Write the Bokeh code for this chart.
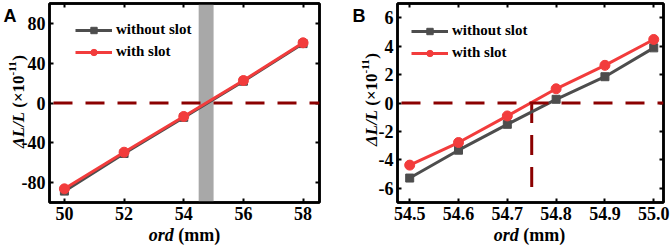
import math
from bokeh.plotting import figure
from bokeh.models import (Span, BoxAnnotation, Legend, LegendItem, FixedTicker,
                          LinearAxis, CustomJSTickFormatter, Range1d, GridBox)
from bokeh.core.properties import value
from bokeh.embed import file_html
from bokeh.resources import INLINE

# ---------------- data ----------------
a_ord = [50, 52, 54, 56, 58]
a_without = [-89.0, -51.0, -14.5, 22.0, 60.0]
a_with = [-86.7, -49.7, -13.6, 22.7, 60.8]
a_band = [54.5, 55.0]
a_xticks = [50, 52, 54, 56, 58]
a_yticks = [-80, -40, 0, 40, 80]
a_ytick_labels = ["-80", "-40", "0", "40", "80"]

b_ord = [54.5, 54.6, 54.7, 54.8, 54.9, 55.0]
b_without = [-5.28, -3.32, -1.50, 0.26, 1.85, 3.88]
b_with = [-4.37, -2.78, -0.91, 1.00, 2.65, 4.47]
b_cross_x = [54.75, 54.75]
b_cross_y = [0, -6]
b_xticks = [54.5, 54.6, 54.7, 54.8, 54.9, 55.0]
b_xtick_labels = ["54.5", "54.6", "54.7", "54.8", "54.9", "55.0"]
b_yticks = [-6, -4, -2, 0, 2, 4, 6]
b_ytick_labels = ["-6", "-4", "-2", "0", "2", "4", "6"]

series_names = ["without slot", "with slot"]
panel_letters = ["A", "B"]

GRAY = "#4d4d4d"
RED = "#f23c3c"
DARKRED = "#8b0000"
SERIF = "Liberation Serif"
W, H = 671, 246

# approximate advance widths (Times metrics, per em)
W_B = {' ': .25, '(': .333, ')': .333, 'm': .833, '×': .570, '1': .5, '0': .5, '-': .333}
W_BI = {'o': .5, 'r': .389, 'd': .5, 'L': .611, '/': .278, 'Δ': .612}


def tw(s, table, size):
    return sum(table.get(c, .5) for c in s) * size


def style_fig(p, xticks, yticks, xlabels=None, ylabels=None):
    p.grid.visible = False
    p.outline_line_color = "black"
    p.outline_line_width = 2.5
    p.xaxis.ticker = FixedTicker(ticks=xticks)
    p.yaxis.ticker = FixedTicker(ticks=yticks)
    if xlabels:
        p.xaxis.major_label_overrides = {t: l for t, l in zip(xticks, xlabels)}
    if ylabels:
        p.yaxis.major_label_overrides = {t: l for t, l in zip(yticks, ylabels)}
    blank = CustomJSTickFormatter(code="return ''")
    top = LinearAxis(ticker=FixedTicker(ticks=xticks), formatter=blank)
    right = LinearAxis(ticker=FixedTicker(ticks=yticks), formatter=blank)
    p.add_layout(top, "above")
    p.add_layout(right, "right")
    for ax in p.axis:
        ax.axis_line_width = 2.5
        ax.axis_line_color = "black"
        ax.major_tick_in = 4
        ax.major_tick_out = 0
        ax.major_tick_line_width = 2
        ax.minor_tick_line_color = None
        ax.major_label_text_font = SERIF
        ax.major_label_text_font_style = "bold"
        ax.major_label_text_font_size = "18px"
        ax.major_label_text_color = "black"
        ax.major_label_standoff = 4
    for ax in (top, right):
        ax.major_label_text_font_size = "0px"
        ax.major_label_standoff = 0


def add_legend(p, renderers, lx, ly):
    items = [LegendItem(label=n, renderers=r) for n, r in zip(series_names, renderers)]
    lg = Legend(items=items, location=(lx, ly), padding=0, margin=0, spacing=5,
                glyph_width=37, glyph_height=16, label_height=16, label_standoff=4,
                label_text_font=SERIF, label_text_font_style="bold",
                label_text_font_size="15px", label_text_color="black",
                border_line_alpha=0, background_fill_alpha=0)
    p.add_layout(lg)


# ---------------- panel A ----------------
pa = figure(width=335, height=246, x_range=Range1d(49.5, 58.55), y_range=Range1d(-100.5, 100.5),
            output_backend="svg", toolbar_location=None,
            min_border_left=49, min_border_right=16, min_border_top=3, min_border_bottom=44)
style_fig(pa, a_xticks, a_yticks, ylabels=a_ytick_labels)
pa.add_layout(BoxAnnotation(left=a_band[0], right=a_band[1], fill_color="#a8a8a8", fill_alpha=1,
                            line_color=None, level="underlay"))
pa.add_layout(Span(location=0, dimension="width", line_color=DARKRED, line_width=3,
                   line_dash="19 13", line_dash_offset=-4))
ra1 = pa.line(a_ord, a_without, color=GRAY, line_width=3)
sa1 = pa.scatter(a_ord, a_without, marker="square", size=8, color=GRAY)
ra2 = pa.line(a_ord, a_with, color=RED, line_width=3)
sa2 = pa.scatter(a_ord, a_with, marker="circle", size=10, color=RED)
add_legend(pa, [[ra1, sa1], [ra2, sa2]], 26, 142)

# ---------------- panel B ----------------
pb = figure(width=336, height=246, x_range=Range1d(54.475, 55.02), y_range=Range1d(-7, 7),
            output_backend="svg", toolbar_location=None,
            min_border_left=62, min_border_right=8, min_border_top=3, min_border_bottom=44)
style_fig(pb, b_xticks, b_yticks, xlabels=b_xtick_labels, ylabels=b_ytick_labels)
pb.add_layout(Span(location=0, dimension="width", line_color=DARKRED, line_width=3,
                   line_dash="19 13", line_dash_offset=-4))
pb.line(b_cross_x, b_cross_y, color=DARKRED, line_width=3, line_dash="20 12")
rb1 = pb.line(b_ord, b_without, color=GRAY, line_width=3)
sb1 = pb.scatter(b_ord, b_without, marker="square", size=8, color=GRAY)
rb2 = pb.line(b_ord, b_with, color=RED, line_width=3)
sb2 = pb.scatter(b_ord, b_with, marker="circle", size=10, color=RED)
add_legend(pb, [[rb1, sb1], [rb2, sb2]], 14, 141)

# ---------------- text overlay (axis titles with mixed styles, panel letters) ----------------
ov = figure(width=W, height=H, x_range=Range1d(0, W), y_range=Range1d(0, H),
            output_backend="svg", toolbar_location=None, x_axis_type=None, y_axis_type=None,
            min_border=0, min_border_left=0, min_border_right=0, min_border_top=0,
            min_border_bottom=0, frame_align=False)
ov.grid.visible = False
ov.outline_line_color = None
ov.background_fill_alpha = 0
ov.border_fill_alpha = 0


def put(txt, x, y, style, size, align="left", angle=0.0, font=SERIF):
    ov.text(x=[x], y=[H - y], text=[txt], text_font=value(font), text_font_style=style,
            text_font_size=f"{size}px", text_align=align, text_baseline="alphabetic",
            angle=angle, text_color="black")


def x_title(cx, base):
    fs = 18
    w1 = tw("ord", W_BI, fs)
    w2 = tw("(mm)", W_B, fs)
    sp = W_B[' '] * fs
    split = cx - (w1 + sp + w2) / 2 + w1
    put("ord", split, base, "bold italic", fs, align="right")
    put("(mm)", split + sp, base, "bold", fs, align="left")


def y_title(bx, cy):
    fs, ss = 17, 11
    pieces = [("ΔL/L", "bold italic", fs, 0.0, tw("ΔL/L", W_BI, fs) + W_B[' '] * fs),
              ("(×10", "bold", fs, 0.0, tw("(×10", W_B, fs)),
              ("-11", "bold", ss, -6.5, tw("-11", W_B, ss)),
              (")", "bold", fs, 0.0, tw(")", W_B, fs))]
    total = sum(pc[4] for pc in pieces)
    pos = cy + total / 2  # canvas y of the start (bottom end) of the rotated title
    for txt, style, size, dx, adv in pieces:
        put(txt, bx + dx, pos, style, size, angle=math.pi / 2)
        pos -= adv


x_title(184, 234)
y_title(18, 101)
put(panel_letters[0], 3, 15, "bold", 18, font="Liberation Sans")
x_title(529, 234)
y_title(371, 99)
put(panel_letters[1], 352, 15, "bold", 18, font="Liberation Sans")

layout = GridBox(children=[(pa, 0, 0), (pb, 0, 1), (ov, 0, 0, 1, 2)], spacing=0)
open("out.html", "w").write(file_html(layout, INLINE))
